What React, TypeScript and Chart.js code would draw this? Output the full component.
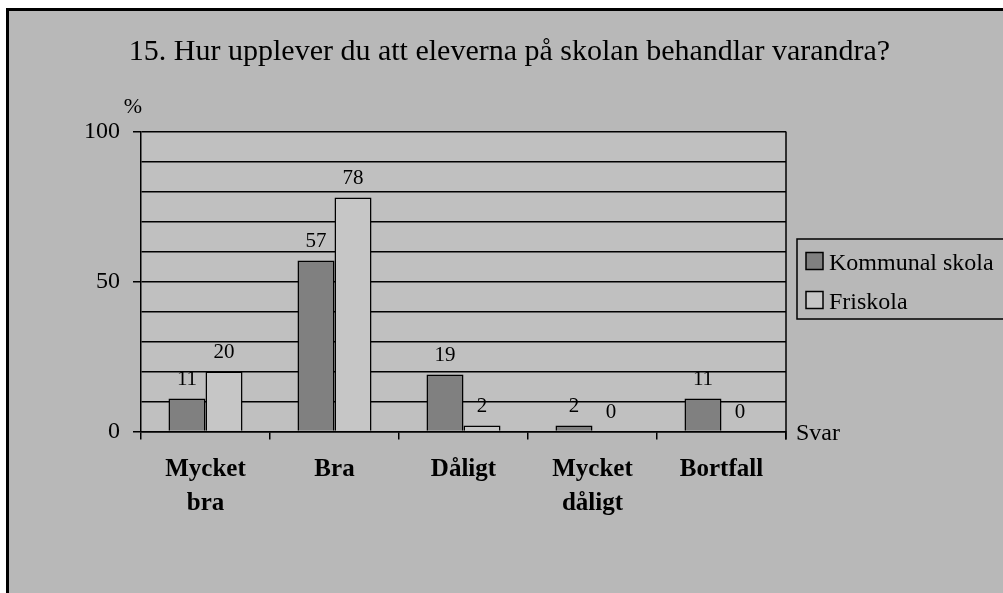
import React, { useEffect, useRef } from 'react';
import { Chart, registerables } from 'chart.js';

Chart.register(...registerables);

// ---- data ----
const categories: (string | string[])[] = [['Mycket', 'bra'], 'Bra', 'Dåligt', ['Mycket', 'dåligt'], 'Bortfall'];
const kommunalSkola = [11, 57, 19, 2, 11];
const friskola = [20, 78, 2, 0, 0];
const seriesNames = ['Kommunal skola', 'Friskola'];
const labeledYTicks = [0, 50, 100];
const chartTitle = '15. Hur upplever du att eleverna på skolan behandlar varandra?';
const yAxisTitle = '%';
const xAxisTitle = 'Svar';

// ---- styles ----
const SERIF = '"Liberation Serif", "Times New Roman", Times, serif';
const W = 1003;
const H = 593;
const PLOT_LEFT = 141;
const PLOT_RIGHT = 786;
const PLOT_TOP = 131.5;
const PLOT_BOTTOM = 431.5;
const COLORS = ['#808080', '#C6C6C6'];
const OUTER_BG = '#B8B8B8';
const PLOT_BG = '#C0C0C0';

const decor = {
  id: 'decor',
  beforeDraw(chart: any) {
    const { ctx, chartArea: ca } = chart;
    ctx.save();
    ctx.fillStyle = '#FFFFFF';
    ctx.fillRect(0, 0, W, H);
    ctx.fillStyle = '#000000';
    ctx.fillRect(6, 8, W, H);
    ctx.fillStyle = OUTER_BG;
    ctx.fillRect(9, 11, W, H);
    ctx.fillStyle = PLOT_BG;
    ctx.fillRect(ca.left, ca.top, ca.right - ca.left, ca.bottom - ca.top);

    ctx.fillStyle = '#000';
    ctx.textBaseline = 'alphabetic';
    ctx.textAlign = 'center';
    ctx.font = `30px ${SERIF}`;
    ctx.fillText(chartTitle, 509.5, 59.5);
    ctx.font = `22px ${SERIF}`;
    ctx.fillText(yAxisTitle, 133, 112.5);
    ctx.restore();
  },
  afterDatasetsDraw(chart: any) {
    const { ctx } = chart;
    ctx.save();
    ctx.fillStyle = '#000';
    ctx.font = `21px ${SERIF}`;
    ctx.textAlign = 'center';
    ctx.textBaseline = 'alphabetic';
    chart.data.datasets.forEach((ds: any, di: number) => {
      const meta = chart.getDatasetMeta(di);
      meta.data.forEach((bar: any, i: number) => {
        ctx.fillText(String(ds.data[i]), bar.x, bar.y - 13.5);
      });
    });
    ctx.restore();
  },
  afterDraw(chart: any) {
    const { ctx, chartArea: ca } = chart;
    ctx.save();
    // right border of plot
    ctx.strokeStyle = '#000';
    ctx.lineWidth = 1.5;
    ctx.beginPath();
    ctx.moveTo(ca.right, ca.top);
    ctx.lineTo(ca.right, ca.bottom + 8);
    ctx.stroke();

    // x axis title
    ctx.fillStyle = '#000';
    ctx.font = `24px ${SERIF}`;
    ctx.textAlign = 'left';
    ctx.textBaseline = 'alphabetic';
    ctx.fillText(xAxisTitle, 796, 440);

    // legend
    ctx.fillStyle = OUTER_BG;
    ctx.fillRect(797, 239, W, 80);
    ctx.strokeRect(797, 239, W, 80);
    const rows = [261, 300];
    chart.data.datasets.forEach((ds: any, di: number) => {
      const cy = rows[di];
      ctx.fillStyle = ds.backgroundColor;
      ctx.fillRect(806, cy - 8.5, 17, 17);
      ctx.strokeRect(806, cy - 8.5, 17, 17);
      ctx.fillStyle = '#000';
      ctx.font = `24px ${SERIF}`;
      ctx.fillText(ds.label, 829, cy + 8.5);
    });
    ctx.restore();
  },
};

export default function App() {
  const ref = useRef<HTMLCanvasElement>(null);
  useEffect(() => {
    if (!ref.current) return;
    const chart = new Chart(ref.current, {
      type: 'bar',
      data: {
        labels: categories as any,
        datasets: [
          { label: seriesNames[0], data: kommunalSkola, backgroundColor: COLORS[0], borderColor: '#000', borderWidth: 1.5 },
          { label: seriesNames[1], data: friskola, backgroundColor: COLORS[1], borderColor: '#000', borderWidth: 1.5 },
        ],
      },
      options: {
        responsive: false,
        animation: false,
        devicePixelRatio: 1,
        layout: { padding: { left: 0, top: PLOT_TOP, right: W - PLOT_RIGHT, bottom: 0 } },
        plugins: {
          legend: { display: false },
          title: { display: false },
          tooltip: { enabled: false },
        },
        datasets: { bar: { barPercentage: 1, categoryPercentage: 0.574 } },
        scales: {
          x: {
            offset: true,
            grid: { offset: true, drawOnChartArea: false, drawTicks: true, tickLength: 8, color: '#000', lineWidth: 1.5 },
            border: { display: true, color: '#000', width: 1.5 },
            ticks: {
              color: '#000',
              font: { family: SERIF, size: 25, weight: 'bold', lineHeight: 34 / 25 },
              padding: 13,
              maxRotation: 0,
              autoSkip: false,
            },
            afterFit: (s: any) => { s.height = H - PLOT_BOTTOM; },
          },
          y: {
            min: 0,
            max: 100,
            ticks: {
              stepSize: 10,
              autoSkip: false,
              color: '#000',
              font: { family: SERIF, size: 24 },
              padding: 13,
              callback: (v: any) => (labeledYTicks.includes(Number(v)) ? String(v) : ''),
            },
            grid: {
              color: '#000',
              lineWidth: 1.5,
              tickLength: 8,
              tickColor: (c: any) => (c.tick && labeledYTicks.includes(c.tick.value) ? '#000' : 'rgba(0,0,0,0)'),
            },
            border: { display: true, color: '#000', width: 1.5 },
            afterFit: (s: any) => { s.width = PLOT_LEFT; },
          },
        },
      } as any,
      plugins: [decor],
    });
    return () => chart.destroy();
  }, []);
  return (
    <canvas
      ref={ref}
      width={W}
      height={H}
      style={{ position: 'absolute', left: 0, top: 0, width: W, height: H, display: 'block' }}
    />
  );
}
